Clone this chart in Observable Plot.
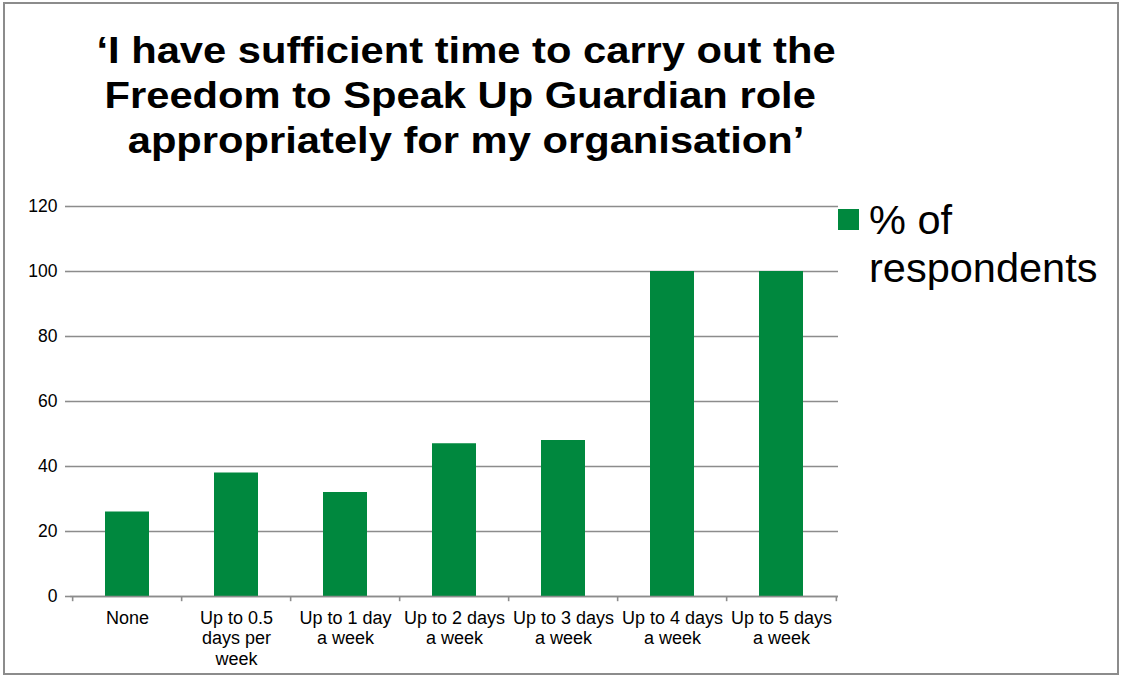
<!DOCTYPE html>
<html>
<head>
<meta charset="utf-8">
<script src="https://cdn.jsdelivr.net/npm/d3@7"></script>
<script src="https://cdn.jsdelivr.net/npm/@observablehq/plot@0.6"></script>
<style>
  html, body { margin: 0; padding: 0; background: #fff; }
  #wrap { position: relative; width: 1125px; height: 680px; overflow: hidden; font-family: "Liberation Sans", Arial, sans-serif; }
  #border { position: absolute; left: 3px; top: 2px; width: 1116px; height: 673px; border: 2px solid #8c8c8c; box-sizing: border-box; }
  #title { position: absolute; left: 166px; width: 600px; top: 28px; text-align: center; font-weight: bold; font-size: 37px; line-height: 45px; color: #000; white-space: nowrap; transform: scaleX(1.127); transform-origin: 300px 0; }
  #title div { margin-left: -200px; margin-right: -200px; }
  #legend { position: absolute; left: 838px; top: 196px; font-size: 41.5px; line-height: 48px; color: #000; }
  #legend .sw { position: absolute; left: 0; top: 13px; width: 21px; height: 21px; background: #00883e; }
  #legend .lbl { position: absolute; left: 31px; top: 0; white-space: nowrap; }
  #chart { position: absolute; left: 0; top: 190px; }
</style>
</head>
<body>
<div id="wrap">
  <div id="border"></div>
  <div id="title"><div>‘I have sufficient time to carry out the</div><div>Freedom to Speak Up Guardian role&nbsp;</div><div>appropriately for my organisation’</div></div>
  <div id="legend"><div class="sw"></div><div class="lbl">% of<br>respondents</div></div>
  <div id="chart"></div>
</div>
<script>
const categories = ["None", "Up to 0.5\ndays per\nweek", "Up to 1 day\na week", "Up to 2 days\na week", "Up to 3 days\na week", "Up to 4 days\na week", "Up to 5 days\na week"];
const values = [26, 38, 32, 47, 48, 100, 100];
const yTicks = [0, 20, 40, 60, 80, 100, 120];
const seriesName = "% of respondents";

const data = categories.map((c, i) => ({category: c, value: values[i]}));

const W = 1125, H = 490;
const mL = 70, mR = 287, mT = 16, mB = 84;
const step = (W - mL - mR) / categories.length;
const grey = "#8c8c8c";
const green = "#00883e";

const chart = Plot.plot({
  width: W,
  height: H,
  marginLeft: mL,
  marginRight: mR,
  marginTop: mT,
  marginBottom: mB,
  style: {fontFamily: "'Liberation Sans', Arial, sans-serif", fontSize: "17.5px", color: "#000", background: "transparent", overflow: "visible"},
  x: {domain: categories, paddingInner: 0.6, paddingOuter: 0.3, align: 0.5, label: null},
  y: {domain: [0, 120], label: null},
  marks: [
    Plot.gridY(yTicks, {stroke: grey, strokeOpacity: 1, strokeWidth: 1.6}),
    Plot.barY(data, {x: "category", y: "value", fill: green}),
    Plot.ruleY([0], {stroke: grey, strokeWidth: 1.6}),
    Plot.axisY(yTicks, {tickSize: 5, tickPadding: 8, stroke: grey, strokeWidth: 1.6, line: true, fontSize: 17.5, fill: "#000"}),
    Plot.axisX({tickSize: 0, tickPadding: 13, fontSize: 18, lineHeight: 1.13, fill: "#000"}),
    Plot.ruleX(categories, {x: d => d, dx: -step / 2, y1: 0, y2: -1.6, stroke: grey, strokeWidth: 1.6}),
    Plot.ruleX(categories.slice(-1), {x: d => d, dx: step / 2, y1: 0, y2: -1.6, stroke: grey, strokeWidth: 1.6})
  ]
});
document.getElementById("chart").appendChild(chart);
</script>
</body>
</html>
